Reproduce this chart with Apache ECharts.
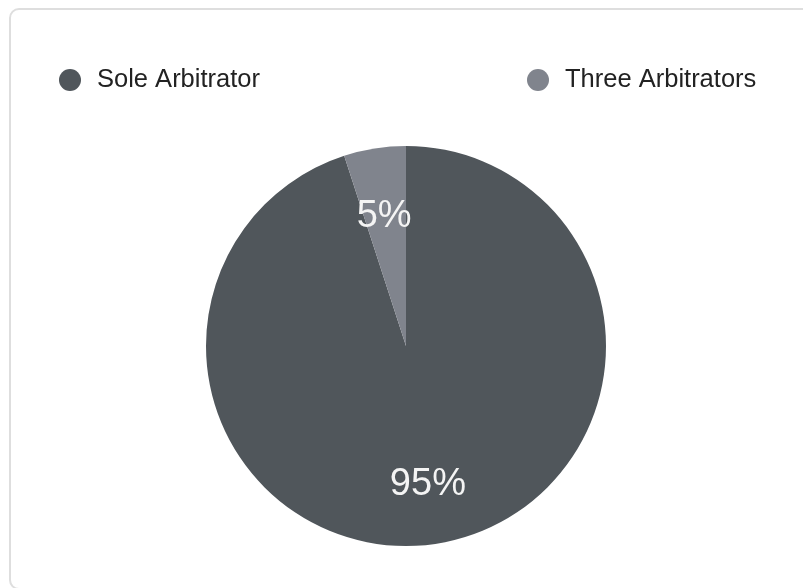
<!DOCTYPE html>
<html>
<head>
<meta charset="utf-8">
<script src="https://cdn.jsdelivr.net/npm/echarts@6/dist/echarts.min.js"></script>
<style>
  html, body { margin: 0; padding: 0; background: #ffffff; }
  #frame {
    position: absolute; left: 9px; top: 8px; width: 830px; height: 582px;
    border: 2px solid #dedede; border-radius: 10px; box-sizing: border-box;
  }
  #chart { position: absolute; left: 0; top: 0; width: 803px; height: 588px; }
</style>
</head>
<body>
<div id="frame"></div>
<div id="chart"></div>
<script>
// Tribunal composition shares
const categories = ['Sole Arbitrator', 'Three Arbitrators'];
const shares = [95, 5];
const sliceColors = ['#50565b', '#80848d'];

const pieData = categories.map((name, i) => ({
  name: name,
  value: shares[i],
  itemStyle: { color: sliceColors[i] }
}));

const center = [406, 346];
const radius = 200;

const chart = echarts.init(document.getElementById('chart'), null, { renderer: 'canvas' });

const legendText = {
  fontFamily: 'Liberation Sans, Arial, sans-serif', fontSize: 25.5, color: '#222222',
  padding: [0, 0, 0, 11]
};

chart.setOption({
  animation: false,
  backgroundColor: 'transparent',
  legend: [
    {
      data: [categories[0]], left: 54, top: 62, icon: 'circle',
      itemWidth: 22, itemHeight: 22, itemGap: 0, textStyle: legendText,
      selectedMode: false
    },
    {
      data: [categories[1]], left: 522, top: 62, icon: 'circle',
      itemWidth: 22, itemHeight: 22, itemGap: 0, textStyle: legendText,
      selectedMode: false
    }
  ],
  series: [
    {
      name: 'share',
      type: 'pie',
      center: center,
      radius: radius,
      startAngle: 90,
      clockwise: true,
      label: { show: false },
      labelLine: { show: false },
      itemStyle: { borderWidth: 0 },
      emphasis: { disabled: true },
      data: pieData
    },
    {
      // transparent ring used only to place the percentage labels further out
      name: 'labels',
      type: 'pie',
      center: center,
      radius: [74, radius],
      startAngle: 90,
      clockwise: true,
      silent: true,
      legendHoverLink: false,
      itemStyle: { color: 'transparent', borderWidth: 0 },
      label: {
        show: true,
        position: 'inside',
        formatter: '{c}%',
        color: '#f4f4f4',
        fontFamily: 'Liberation Sans, Arial, sans-serif',
        fontSize: 38
      },
      labelLine: { show: false },
      emphasis: { disabled: true },
      data: categories.map((name, i) => ({
        name: name + ' ',
        value: shares[i],
        label: i === 1 ? { offset: [0, 9] } : {}
      }))
    }
  ]
});
</script>
</body>
</html>
